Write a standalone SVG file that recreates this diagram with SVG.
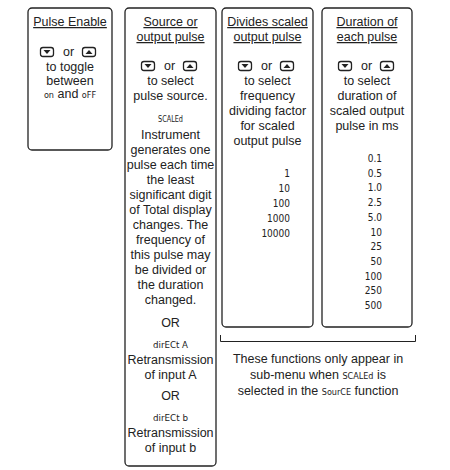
<svg xmlns="http://www.w3.org/2000/svg" xmlns:xlink="http://www.w3.org/1999/xlink" width="450" height="470" viewBox="0 0 450 470">
<style>
.box{fill:#fff;stroke:#222;stroke-width:1.3}
.t{font-family:"Liberation Sans",Arial,sans-serif;font-size:12.5px;fill:#222;text-anchor:middle}
.h{text-decoration:underline}
.s{font-family:"DejaVu Sans Condensed","DejaVu Sans",sans-serif;font-size:9.5px;fill:#222}
.m{font-family:"DejaVu Sans Condensed","DejaVu Sans",sans-serif;font-size:9px}
.n{font-family:"DejaVu Sans Condensed","DejaVu Sans",sans-serif;font-size:10px;fill:#222;text-anchor:end}
.br{fill:none;stroke:#222;stroke-width:1}
</style>
<defs>
<g id="dn"><rect x="0.5" y="0.5" width="13" height="9" rx="2.5" fill="#fff" stroke="#222" stroke-width="1.3"/><polygon points="3.5,3 10.5,3 7,7" fill="#222"/></g>
<g id="up"><rect x="0.5" y="0.5" width="13" height="9" rx="2.5" fill="#fff" stroke="#222" stroke-width="1.3"/><polygon points="3.5,7 10.5,7 7,3" fill="#222"/></g>
</defs>
<rect width="450" height="470" fill="#fff"/>

<g id="pulse-enable">
<rect class="box" x="28" y="8" width="84" height="142" rx="4"/>
<text class="t h" x="70" y="26">Pulse Enable</text>
<use xlink:href="#dn" x="40" y="47"/><text class="t" x="68.5" y="56">or</text><use xlink:href="#up" x="82" y="47"/>
<text class="t" x="70" y="71">to toggle</text>
<text class="t" x="70" y="84.5">between</text>
<text class="t" x="70" y="98"><tspan class="m">on</tspan> and <tspan class="m">oFF</tspan></text>
</g>

<g id="source">
<rect class="box" x="125" y="8" width="91" height="458" rx="4"/>
<text class="t h" x="170.5" y="26">Source or</text>
<text class="t h" x="170.5" y="41">output pulse</text>
<use xlink:href="#dn" x="141" y="61"/><text class="t" x="169.5" y="70">or</text><use xlink:href="#up" x="183" y="61"/>
<text class="t" x="170.5" y="85">to select</text>
<text class="t" x="170.5" y="100">pulse source.</text>
<text class="t s" x="170.5" y="122" textLength="25" lengthAdjust="spacingAndGlyphs">SCALEd</text>
<text class="t" x="170.5" y="139">Instrument</text>
<text class="t" x="170.5" y="154">generates one</text>
<text class="t" x="170.5" y="169">pulse each time</text>
<text class="t" x="170.5" y="184">the least</text>
<text class="t" x="170.5" y="199">significant digit</text>
<text class="t" x="170.5" y="214">of Total display</text>
<text class="t" x="170.5" y="229">changes. The</text>
<text class="t" x="170.5" y="244">frequency of</text>
<text class="t" x="170.5" y="259">this pulse may</text>
<text class="t" x="170.5" y="274">be divided or</text>
<text class="t" x="170.5" y="289">the duration</text>
<text class="t" x="170.5" y="304">changed.</text>
<text class="t" x="170.5" y="327">OR</text>
<text class="t s" x="170.5" y="348" textLength="35" lengthAdjust="spacingAndGlyphs">dirECt A</text>
<text class="t" x="170.5" y="364">Retransmission</text>
<text class="t" x="170.5" y="379">of input A</text>
<text class="t" x="170.5" y="400">OR</text>
<text class="t s" x="170.5" y="421" textLength="35" lengthAdjust="spacingAndGlyphs">dirECt b</text>
<text class="t" x="170.5" y="437">Retransmission</text>
<text class="t" x="170.5" y="452">of input b</text>
</g>

<g id="divides">
<rect class="box" x="222" y="8" width="91" height="319" rx="4"/>
<text class="t h" x="267.5" y="26">Divides scaled</text>
<text class="t h" x="267.5" y="41">output pulse</text>
<use xlink:href="#dn" x="238" y="61"/><text class="t" x="266.5" y="70">or</text><use xlink:href="#up" x="280" y="61"/>
<text class="t" x="267.5" y="85">to select</text>
<text class="t" x="267.5" y="100">frequency</text>
<text class="t" x="267.5" y="115">dividing factor</text>
<text class="t" x="267.5" y="130">for scaled</text>
<text class="t" x="267.5" y="145">output pulse</text>
<text class="n" x="290" y="177">1</text>
<text class="n" x="290" y="192">10</text>
<text class="n" x="290" y="207">100</text>
<text class="n" x="290" y="222">1000</text>
<text class="n" x="290" y="237">10000</text>
</g>

<g id="duration">
<rect class="box" x="322" y="8" width="90" height="319" rx="4"/>
<text class="t h" x="367" y="26">Duration of</text>
<text class="t h" x="367" y="41">each pulse</text>
<use xlink:href="#dn" x="338" y="61"/><text class="t" x="366.5" y="70">or</text><use xlink:href="#up" x="380" y="61"/>
<text class="t" x="367" y="85">to select</text>
<text class="t" x="367" y="100">duration of</text>
<text class="t" x="367" y="115">scaled output</text>
<text class="t" x="367" y="130">pulse in ms</text>
<text class="n" x="382" y="162">0.1</text>
<text class="n" x="382" y="176.7">0.5</text>
<text class="n" x="382" y="191.4">1.0</text>
<text class="n" x="382" y="206">2.5</text>
<text class="n" x="382" y="220.8">5.0</text>
<text class="n" x="382" y="235.5">10</text>
<text class="n" x="382" y="250">25</text>
<text class="n" x="382" y="265">50</text>
<text class="n" x="382" y="279.6">100</text>
<text class="n" x="382" y="294">250</text>
<text class="n" x="382" y="309">500</text>
</g>

<g id="connectors">
<path class="br" d="M220.5,335 V341.5 H415.5 V335"/>
</g>

<g id="note">
<text class="t" x="318" y="363">These functions only appear in</text>
<text class="t" x="318" y="379">sub-menu when <tspan class="m">SCALEd</tspan> is</text>
<text class="t" x="318" y="395">selected in the <tspan class="m">SourCE</tspan> function</text>
</g>
</svg>
